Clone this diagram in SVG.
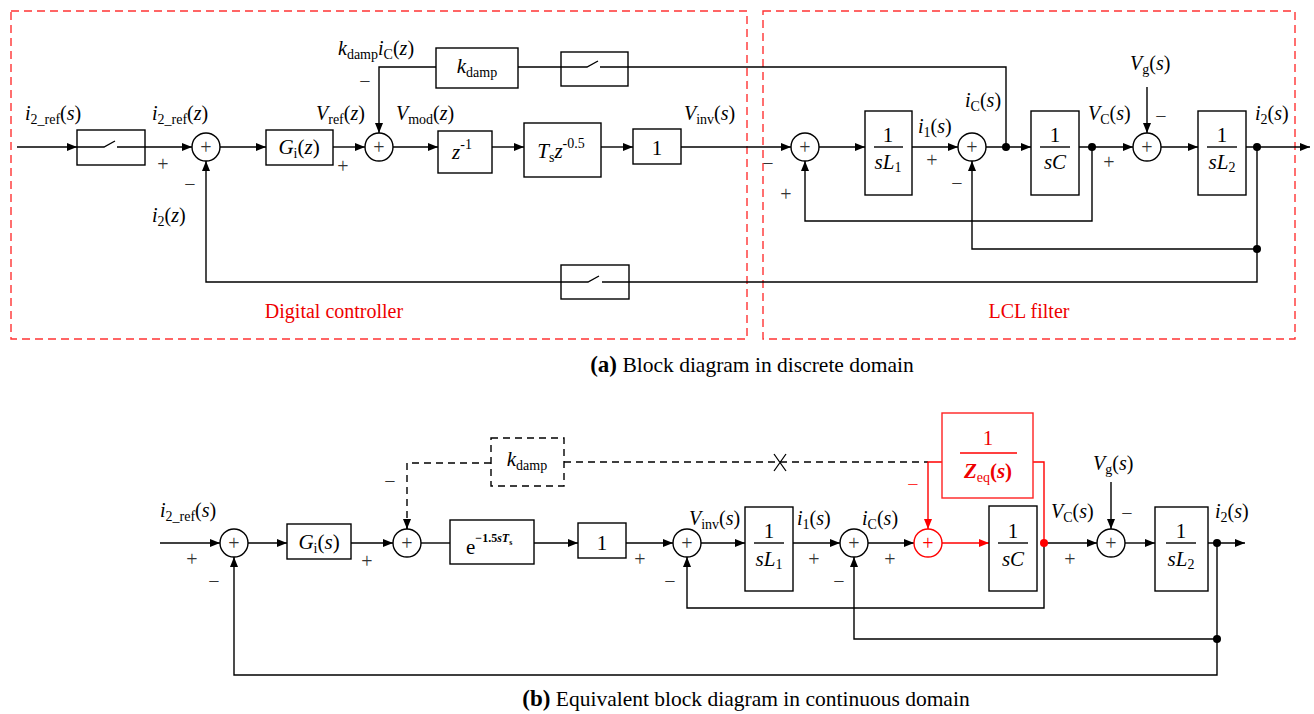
<svg xmlns="http://www.w3.org/2000/svg" width="1314" height="714" viewBox="0 0 1314 714">
<style>
.ln{stroke:#000;stroke-width:1.4;fill:none}
.rl{stroke:#f00;stroke-width:1.4;fill:none}
.bx{fill:#fff;stroke:#000;stroke-width:1.4}
.rb{fill:#fff;stroke:#f22;stroke-width:1.4}
.db{fill:#fff;stroke:#000;stroke-width:1.4;stroke-dasharray:7,5}
.dl{stroke:#000;stroke-width:1.4;fill:none;stroke-dasharray:7,5}
.frame{fill:none;stroke:#f33;stroke-width:1.4;stroke-dasharray:8,5}
.sum{fill:#fff;stroke:#000;stroke-width:1.4}
.rsum{fill:#fff;stroke:#f00;stroke-width:1.4}
.t{font-family:"Liberation Serif","Times New Roman",serif;font-size:20px;fill:#000}
.bt{font-family:"Liberation Serif","Times New Roman",serif;font-size:21px;fill:#000}
.i{font-style:italic}
.sb{font-size:14px;font-style:normal}
.sg{font-family:"Liberation Serif",serif;font-size:20px;fill:#333;text-anchor:middle}
.pl{font-family:"Liberation Serif",serif;font-size:20px;fill:#333;text-anchor:middle}
.cap{font-family:"Liberation Serif",serif;font-size:21.5px;fill:#000}
.red{fill:#e00}
</style>
<defs>
<marker id="a" viewBox="0 0 10 8" refX="10" refY="4" markerWidth="10" markerHeight="8" markerUnits="userSpaceOnUse" orient="auto"><path d="M0,0L10,4L0,8z" fill="#000"/></marker>
<marker id="ar" viewBox="0 0 10 8" refX="10" refY="4" markerWidth="10" markerHeight="8" markerUnits="userSpaceOnUse" orient="auto"><path d="M0,0L10,4L0,8z" fill="#f00"/></marker>
</defs>

<!-- frames (a) -->
<g id="frame-digital"><rect class="frame" x="11" y="11" width="736" height="328"/><text class="t red" x="334" y="318" text-anchor="middle" font-size="21.5">Digital controller</text></g>
<g id="frame-lcl"><rect class="frame" x="763" y="11" width="532" height="328"/><text class="t red" x="1029" y="318" text-anchor="middle" font-size="21.5">LCL filter</text></g>

<!-- connectors (a) -->
<g id="connectors-a">
<path class="ln" d="M17,147H77" marker-end="url(#a)"/>
<path class="ln" d="M77,147H104L115,141M117,147H192" marker-end="url(#a)"/>
<path class="ln" d="M220,147H266" marker-end="url(#a)"/>
<path class="ln" d="M333,147H365" marker-end="url(#a)"/>
<path class="ln" d="M436,67H379V133" marker-end="url(#a)"/>
<path class="ln" d="M518,67H561M561,67H587L598,61M600,67H1006V147"/>
<path class="ln" d="M393,147H438" marker-end="url(#a)"/>
<path class="ln" d="M492,147H524" marker-end="url(#a)"/>
<path class="ln" d="M601,147H633" marker-end="url(#a)"/>
<path class="ln" d="M681,147H791" marker-end="url(#a)"/>
<path class="ln" d="M819,147H865" marker-end="url(#a)"/>
<path class="ln" d="M912,147H958" marker-end="url(#a)"/>
<path class="ln" d="M986,147H1031" marker-end="url(#a)"/>
<path class="ln" d="M1079,147H1133" marker-end="url(#a)"/>
<path class="ln" d="M1147,87V133" marker-end="url(#a)"/>
<path class="ln" d="M1161,147H1198" marker-end="url(#a)"/>
<path class="ln" d="M1246,147H1310" marker-end="url(#a)"/>
<path class="ln" d="M1092,147V221H805V161" marker-end="url(#a)"/>
<path class="ln" d="M1257,147V249H972V161" marker-end="url(#a)"/>
<path class="ln" d="M1257,249V282H629M629,282H602M599,276L588,282H561M561,282H206V161" marker-end="url(#a)"/>
<circle cx="1006" cy="147" r="4"/>
<circle cx="1092" cy="147" r="4"/>
<circle cx="1257" cy="147" r="4"/>
<circle cx="1257" cy="249" r="4"/>
</g>

<!-- nodes (a) -->
<g id="sw-ref"><rect class="bx" x="77" y="130" width="68" height="35" style="fill:none"/></g>
<g id="sum-a1"><circle class="sum" cx="206" cy="147" r="14"/><text class="pl" x="206" y="154">+</text></g>
<g id="gi-z"><rect class="bx" x="266" y="130" width="67" height="35"/><text class="bt" x="299" y="154" text-anchor="middle"><tspan class="i">G</tspan><tspan class="sb" dy="4">i</tspan><tspan dy="-4">(</tspan><tspan class="i">z</tspan>)</text></g>
<g id="sum-a2"><circle class="sum" cx="379" cy="147" r="14"/><text class="pl" x="379" y="154">+</text></g>
<g id="kdamp-a"><rect class="bx" x="436" y="48" width="82" height="40"/><text class="bt" x="477" y="73" text-anchor="middle"><tspan class="i">k</tspan><tspan class="sb" dy="4">damp</tspan></text></g>
<g id="sw-kdamp"><rect class="bx" x="561" y="52" width="67" height="34" style="fill:none"/></g>
<g id="zinv"><rect class="bx" x="438" y="131" width="54" height="42"/><text class="bt" x="462" y="159" text-anchor="middle"><tspan class="i">z</tspan><tspan font-size="14" dy="-10">-1</tspan></text></g>
<g id="tsz"><rect class="bx" x="524" y="123" width="77" height="54"/><text class="bt" x="561" y="158" text-anchor="middle" font-size="22"><tspan class="i">T</tspan><tspan class="sb" dy="4">s</tspan><tspan class="i" dy="-4">z</tspan><tspan font-size="14" dy="-10">-0.5</tspan></text></g>
<g id="gain1-a"><rect class="bx" x="633" y="129" width="48" height="35"/><text class="bt" x="657" y="155" text-anchor="middle" font-size="22">1</text></g>
<g id="sum-a3"><circle class="sum" cx="805" cy="147" r="14"/><text class="pl" x="805" y="154">+</text></g>
<g id="l1-a"><rect class="bx" x="865" y="111" width="47" height="84"/><text class="bt" x="888" y="142" text-anchor="middle">1</text><path class="ln" d="M874,147H903"/><text class="bt" x="888" y="169" text-anchor="middle"><tspan class="i">sL</tspan><tspan class="sb" dy="3">1</tspan></text></g>
<g id="sum-a4"><circle class="sum" cx="972" cy="147" r="14"/><text class="pl" x="972" y="154">+</text></g>
<g id="c-a"><rect class="bx" x="1031" y="111" width="48" height="84"/><text class="bt" x="1055" y="142" text-anchor="middle">1</text><path class="ln" d="M1040,147H1070"/><text class="bt i" x="1055" y="169" text-anchor="middle">sC</text></g>
<g id="sum-a5"><circle class="sum" cx="1147" cy="147" r="14"/><text class="pl" x="1147" y="154">+</text></g>
<g id="l2-a"><rect class="bx" x="1198" y="111" width="48" height="84"/><text class="bt" x="1222" y="142" text-anchor="middle">1</text><path class="ln" d="M1207,147H1237"/><text class="bt" x="1222" y="169" text-anchor="middle"><tspan class="i">sL</tspan><tspan class="sb" dy="3">2</tspan></text></g>
<g id="sw-fb"><rect class="bx" x="561" y="265" width="68" height="34" style="fill:none"/></g>

<!-- labels (a) -->
<g id="labels-a">
<text class="t" x="25" y="120"><tspan class="i">i</tspan><tspan class="sb" dy="4">2_ref</tspan><tspan dy="-4">(</tspan><tspan class="i">s</tspan>)</text>
<text class="t" x="152" y="120"><tspan class="i">i</tspan><tspan class="sb" dy="4">2_ref</tspan><tspan dy="-4">(</tspan><tspan class="i">z</tspan>)</text>
<text class="t" x="152" y="222"><tspan class="i">i</tspan><tspan class="sb" dy="4">2</tspan><tspan dy="-4">(</tspan><tspan class="i">z</tspan>)</text>
<text class="t" x="316" y="120"><tspan class="i">V</tspan><tspan class="sb" dy="4">ref</tspan><tspan dy="-4">(</tspan><tspan class="i">z</tspan>)</text>
<text class="t" x="338" y="55"><tspan class="i">k</tspan><tspan class="sb" dy="4">damp</tspan><tspan class="i" dy="-4">i</tspan><tspan class="sb" dy="4">C</tspan><tspan dy="-4">(</tspan><tspan class="i">z</tspan>)</text>
<text class="t" x="396" y="120"><tspan class="i">V</tspan><tspan class="sb" dy="4">mod</tspan><tspan dy="-4">(</tspan><tspan class="i">z</tspan>)</text>
<text class="t" x="684" y="120"><tspan class="i">V</tspan><tspan class="sb" dy="4">inv</tspan><tspan dy="-4">(</tspan><tspan class="i">s</tspan>)</text>
<text class="t" x="918" y="133"><tspan class="i">i</tspan><tspan class="sb" dy="4">1</tspan><tspan dy="-4">(</tspan><tspan class="i">s</tspan>)</text>
<text class="t" x="965" y="107"><tspan class="i">i</tspan><tspan class="sb" dy="4">C</tspan><tspan dy="-4">(</tspan><tspan class="i">s</tspan>)</text>
<text class="t" x="1088" y="120"><tspan class="i">V</tspan><tspan class="sb" dy="4">C</tspan><tspan dy="-4">(</tspan><tspan class="i">s</tspan>)</text>
<text class="t" x="1130" y="70"><tspan class="i">V</tspan><tspan class="sb" dy="4">g</tspan><tspan dy="-4">(</tspan><tspan class="i">s</tspan>)</text>
<text class="t" x="1255" y="120"><tspan class="i">i</tspan><tspan class="sb" dy="4">2</tspan><tspan dy="-4">(</tspan><tspan class="i">s</tspan>)</text>
<text class="sg" x="163" y="171">+</text><text class="sg" x="190" y="191">−</text>
<text class="sg" x="343" y="173">+</text><text class="sg" x="365" y="88">−</text>
<text class="sg" x="768" y="170">−</text><text class="sg" x="786" y="201">+</text>
<text class="sg" x="932" y="167">+</text><text class="sg" x="957" y="190">−</text>
<text class="sg" x="1109" y="169">+</text><text class="sg" x="1161" y="123">−</text>
</g>
<text class="cap" x="752" y="372" text-anchor="middle"><tspan font-weight="bold" font-size="23">(a)</tspan> Block diagram in discrete domain</text>

<!-- connectors (b) -->
<g id="connectors-b">
<path class="ln" d="M160,543H220" marker-end="url(#a)"/>
<path class="ln" d="M248,543H287" marker-end="url(#a)"/>
<path class="ln" d="M351,543H393" marker-end="url(#a)"/>
<path class="dl" d="M491,463H407V529"/>
<path class="ln" d="M407,522V529" marker-end="url(#a)"/>
<path class="dl" d="M564,462H928"/>
<path d="M774,454L786,471M786,454L774,471" stroke="#000" stroke-width="1.3"/>
<path class="rl" d="M942,462H928V529" marker-end="url(#ar)"/>
<path class="ln" d="M421,543H450"/>
<path class="ln" d="M534,543H578" marker-end="url(#a)"/>
<path class="ln" d="M626,543H673" marker-end="url(#a)"/>
<path class="ln" d="M701,543H745" marker-end="url(#a)"/>
<path class="ln" d="M793,543H840" marker-end="url(#a)"/>
<path class="ln" d="M868,543H914" marker-end="url(#a)"/>
<path class="rl" d="M942,543H989" marker-end="url(#ar)"/>
<path class="rl" d="M1033,462H1044V543"/>
<path class="ln" d="M1044,543H1097" marker-end="url(#a)"/>
<path class="ln" d="M1111,482V529" marker-end="url(#a)"/>
<path class="ln" d="M1125,543H1155" marker-end="url(#a)"/>
<path class="ln" d="M1208,543H1245" marker-end="url(#a)"/>
<path class="ln" d="M1044,543V608H687V557" marker-end="url(#a)"/>
<path class="ln" d="M1217,543V639H854V557" marker-end="url(#a)"/>
<path class="ln" d="M1217,639V675H234V557" marker-end="url(#a)"/>
<circle cx="1044" cy="543" r="4" fill="#f00"/>
<circle cx="1217" cy="543" r="4"/>
<circle cx="1217" cy="639" r="4"/>
</g>

<!-- nodes (b) -->
<g id="sum-b1"><circle class="sum" cx="234" cy="543" r="14"/><text class="pl" x="234" y="550">+</text></g>
<g id="gi-s"><rect class="bx" x="287" y="524" width="64" height="35"/><text class="bt" x="319" y="549" text-anchor="middle"><tspan class="i">G</tspan><tspan class="sb" dy="4">i</tspan><tspan dy="-4">(</tspan><tspan class="i">s</tspan>)</text></g>
<g id="sum-b2"><circle class="sum" cx="407" cy="543" r="14"/><text class="pl" x="407" y="550">+</text></g>
<g id="kdamp-b"><rect class="db" x="491" y="438" width="73" height="48"/><text class="bt" x="527" y="466" text-anchor="middle"><tspan class="i">k</tspan><tspan class="sb" dy="4">damp</tspan></text></g>
<g id="delay"><rect class="bx" x="450" y="520" width="84" height="44"/><text class="bt" x="466" y="554" font-size="23">e<tspan font-size="12" font-weight="bold" dy="-12">−1.5</tspan><tspan font-size="12" font-weight="bold" font-style="italic">sT</tspan><tspan font-size="8" font-weight="bold" dy="3">s</tspan></text></g>
<g id="gain1-b"><rect class="bx" x="578" y="523" width="48" height="35"/><text class="bt" x="602" y="550" text-anchor="middle" font-size="23">1</text></g>
<g id="sum-b3"><circle class="sum" cx="687" cy="543" r="14"/><text class="pl" x="687" y="550">+</text></g>
<g id="l1-b"><rect class="bx" x="745" y="507" width="48" height="84"/><text class="bt" x="769" y="538" text-anchor="middle">1</text><path class="ln" d="M754,543H784"/><text class="bt" x="769" y="566" text-anchor="middle"><tspan class="i">sL</tspan><tspan class="sb" dy="3">1</tspan></text></g>
<g id="sum-b4"><circle class="sum" cx="854" cy="543" r="14"/><text class="pl" x="854" y="550">+</text></g>
<g id="sum-red"><circle class="rsum" cx="928" cy="543" r="14"/><text class="pl" x="928" y="550" style="fill:#f00">+</text></g>
<g id="zeq"><rect class="rb" x="942" y="413" width="91" height="85"/><text class="bt red" x="988" y="445" text-anchor="middle">1</text><path d="M960,453H1017" stroke="#f00" stroke-width="1.3"/><text class="bt red" x="988" y="478" text-anchor="middle" font-weight="bold" font-size="22"><tspan class="i">Z</tspan><tspan class="sb" font-weight="normal" dy="4">eq</tspan><tspan dy="-4">(</tspan><tspan class="i">s</tspan>)</text></g>
<g id="c-b"><rect class="bx" x="989" y="506" width="48" height="85"/><text class="bt" x="1013" y="538" text-anchor="middle">1</text><path class="ln" d="M998,543H1028"/><text class="bt i" x="1013" y="566" text-anchor="middle">sC</text></g>
<g id="sum-b5"><circle class="sum" cx="1111" cy="543" r="14"/><text class="pl" x="1111" y="550">+</text></g>
<g id="l2-b"><rect class="bx" x="1155" y="507" width="53" height="84"/><text class="bt" x="1181" y="538" text-anchor="middle">1</text><path class="ln" d="M1166,543H1196"/><text class="bt" x="1181" y="566" text-anchor="middle"><tspan class="i">sL</tspan><tspan class="sb" dy="3">2</tspan></text></g>

<!-- labels (b) -->
<g id="labels-b">
<text class="t" x="160" y="517"><tspan class="i">i</tspan><tspan class="sb" dy="4">2_ref</tspan><tspan dy="-4">(</tspan><tspan class="i">s</tspan>)</text>
<text class="t" x="689" y="525"><tspan class="i">V</tspan><tspan class="sb" dy="4">inv</tspan><tspan dy="-4">(</tspan><tspan class="i">s</tspan>)</text>
<text class="t" x="797" y="525"><tspan class="i">i</tspan><tspan class="sb" dy="4">1</tspan><tspan dy="-4">(</tspan><tspan class="i">s</tspan>)</text>
<text class="t" x="862" y="525"><tspan class="i">i</tspan><tspan class="sb" dy="4">C</tspan><tspan dy="-4">(</tspan><tspan class="i">s</tspan>)</text>
<text class="t" x="1051" y="518"><tspan class="i">V</tspan><tspan class="sb" dy="4">C</tspan><tspan dy="-4">(</tspan><tspan class="i">s</tspan>)</text>
<text class="t" x="1093" y="470"><tspan class="i">V</tspan><tspan class="sb" dy="4">g</tspan><tspan dy="-4">(</tspan><tspan class="i">s</tspan>)</text>
<text class="t" x="1215" y="518"><tspan class="i">i</tspan><tspan class="sb" dy="4">2</tspan><tspan dy="-4">(</tspan><tspan class="i">s</tspan>)</text>
<text class="sg" x="192" y="566">+</text><text class="sg" x="214" y="588">−</text>
<text class="sg" x="367" y="568">+</text><text class="sg" x="390" y="488">−</text>
<text class="sg" x="640" y="566">+</text><text class="sg" x="670" y="588">−</text>
<text class="sg" x="814" y="566">+</text><text class="sg" x="839" y="588">−</text>
<text class="sg" x="890" y="566">+</text><text class="sg" x="913" y="491" style="fill:#f33">−</text>
<text class="sg" x="1070" y="566">+</text><text class="sg" x="1127" y="520">−</text>
</g>
<text class="cap" x="746" y="706" text-anchor="middle"><tspan font-weight="bold" font-size="23">(b)</tspan> Equivalent block diagram in continuous domain</text>
</svg>
